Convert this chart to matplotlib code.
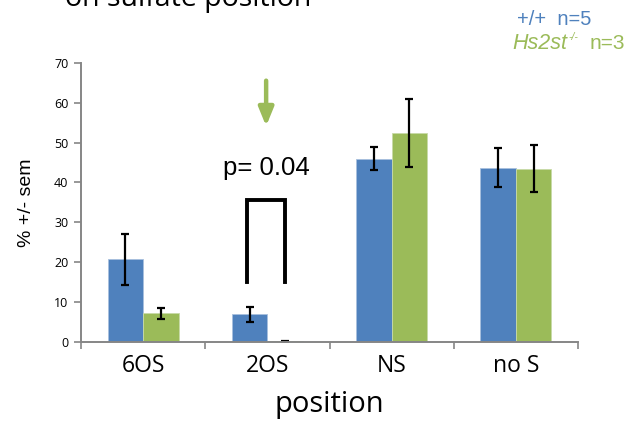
import matplotlib
matplotlib.use("Agg")
import matplotlib.pyplot as plt
import numpy as np

categories = ["6OS", "2OS", "NS", "no S"]
wt_mean = [20.7, 6.9, 45.9, 43.7]
wt_sem = [6.4, 1.85, 2.85, 4.9]
ko_mean = [7.2, 0.2, 52.4, 43.4]
ko_sem = [1.35, 0.1, 8.5, 5.9]

blue = "#4f81bd"
green = "#9bbb59"
gray = "#868686"

W, H = 626, 421
fig = plt.figure(figsize=(6.26, 4.21), dpi=100)
ax = fig.add_axes([81 / W, 1 - 342 / H, 497 / W, (342 - 62.7) / H])

x = np.arange(len(categories))
w = 0.286
err_kw = dict(ecolor="black", elinewidth=1.6, capsize=3, capthick=1.6)
ax.bar(x - w / 2, wt_mean, w, yerr=wt_sem, color=blue, edgecolor="#a8c0de",
       linewidth=0.6, error_kw=err_kw, zorder=2)
ax.bar(x + w / 2, ko_mean, w, yerr=ko_sem, color=green, edgecolor="#c8daa8",
       linewidth=0.6, error_kw=err_kw, zorder=2)

ax.set_xlim(-0.5, 3.5)
ax.set_ylim(0, 70)
ax.set_yticks(range(0, 71, 10))
ax.set_xticks(np.arange(-0.5, 3.6, 1))
ax.set_xticklabels([])
ax.tick_params(axis="x", direction="out", length=5, color=gray, width=1.2)
ax.tick_params(axis="y", direction="out", length=5, color=gray, width=1.2,
               labelsize=9, pad=4)
for lab in ax.get_yticklabels():
    lab.set_family("Open Sans")
for s in ["top", "right"]:
    ax.spines[s].set_visible(False)
for s in ["left", "bottom"]:
    ax.spines[s].set_color(gray)
    ax.spines[s].set_linewidth(1.4)

for i, c in enumerate(categories):
    ax.text(i, -3.0, c, ha="center", va="top", fontsize=16.5, family="Open Sans")
ax.text(1.5, -12.0, "position", ha="center", va="top", fontsize=21, family="Open Sans")
ax.set_ylabel("% +/- sem", fontsize=14, family="Liberation Sans", labelpad=14)

# significance bracket
ax.plot([0.836, 0.836, 1.14, 1.14], [15, 35.7, 35.7, 15], color="black",
        lw=2.8, solid_joinstyle="miter", zorder=3)
ax.text(0.99, 43.6, "p= 0.04", ha="center", va="center", fontsize=18.5,
        family="Liberation Sans")
ax.annotate("", xy=(0.99, 54.1), xytext=(0.99, 65.5),
            arrowprops=dict(arrowstyle="-|>,head_width=0.45,head_length=1.1",
                            color=green, lw=3.2, shrinkA=0, shrinkB=0))

# title (cut off at the top in the original)
fig.text(65 / W, 1 - 6 / H, "on sulfate position", fontsize=20.5,
         family="Open Sans", va="baseline", ha="left")

# legend text
fig.text(517 / W, 1 - 25 / H, "+/+  n=5", fontsize=14.5, color=blue,
         family="Liberation Sans", va="baseline")
fig.text(512 / W, 1 - 49 / H, "Hs2st", fontsize=15.5, color=green, style="italic",
         family="Liberation Sans", va="baseline")
fig.text(568 / W, 1 - 40 / H, "-/-", fontsize=7.5, color=green, style="italic",
         family="Liberation Sans", va="baseline")
fig.text(625 / W, 1 - 49 / H, "n=3", fontsize=15, color=green,
         family="Liberation Sans", va="baseline", ha="right")

fig.savefig("out.png", dpi=100)
